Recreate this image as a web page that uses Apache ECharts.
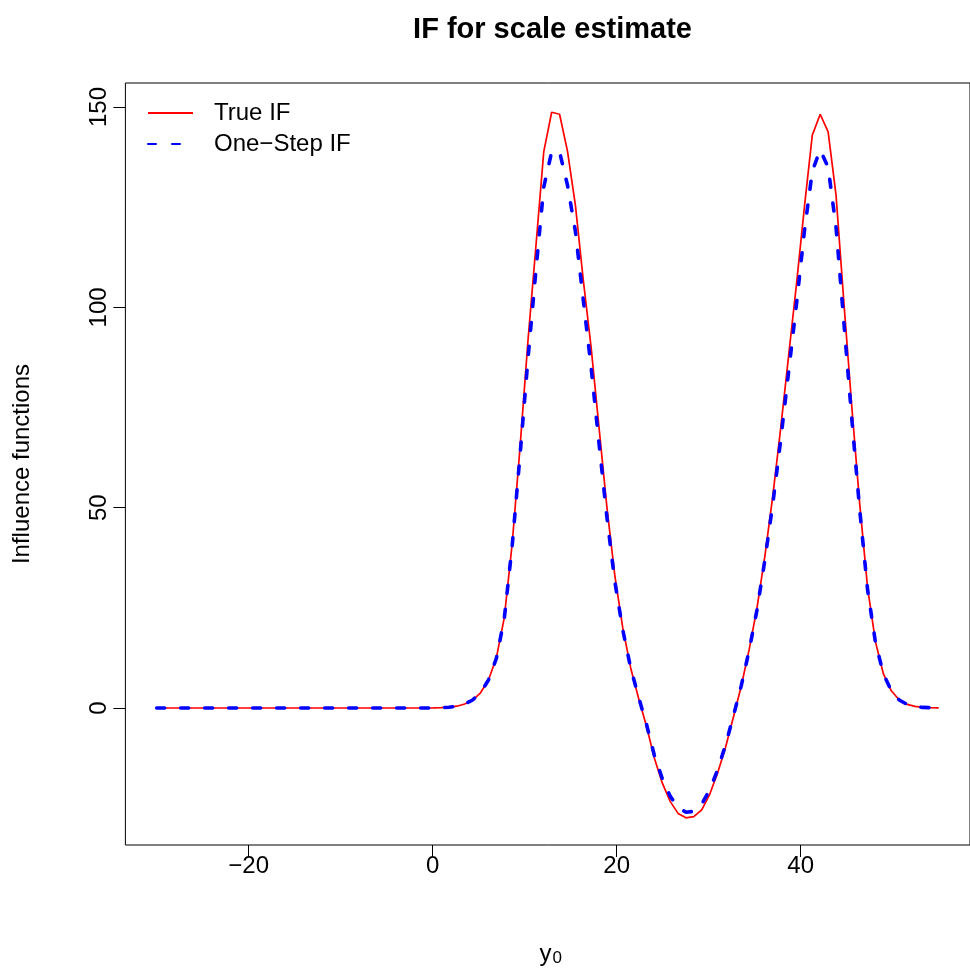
<!DOCTYPE html>
<html><head><meta charset="utf-8">
<script src="https://cdn.jsdelivr.net/npm/echarts@6/dist/echarts.min.js"></script>
<style>html,body{margin:0;padding:0;background:#fff}#c{width:970px;height:972px}</style>
</head><body><div id="c"></div>
<script>
const xValues = [-30,-29.14,-28.28,-27.42,-26.57,-25.71,-24.85,-23.99,-23.13,-22.27,
 -21.41,-20.56,-19.70,-18.84,-17.98,-17.12,-16.26,-15.40,-14.55,-13.69,
 -12.83,-11.97,-11.11,-10.25,-9.39,-8.54,-7.68,-6.82,-5.96,-5.10,
 -4.24,-3.38,-2.53,-1.67,-0.81,0.05,0.91,1.77,2.63,3.48,
 4.34,5.20,6.06,6.92,7.78,8.64,9.49,10.35,11.21,12.07,
 12.93,13.79,14.65,15.51,16.36,17.22,18.08,18.94,19.80,20.66,
 21.52,22.37,23.23,24.09,24.95,25.81,26.67,27.53,28.38,29.24,
 30.10,30.96,31.82,32.68,33.54,34.39,35.25,36.11,36.97,37.83,
 38.69,39.55,40.40,41.26,42.12,42.98,43.84,44.70,45.56,46.41,
 47.27,48.13,48.99,49.85,50.71,51.57,52.42,53.28,54.14,55.00];

const trueIF = [0,0,0,0,0,0,0,0,0,0,
 0,0,0,0,0,0,0,0,0,0,
 0,0,0,0,0,0,0,0,0,0,
 0,0,0,0,0.01,0.03,0.08,0.2,0.45,1.0,
 2.0,3.8,7.0,12.5,22.5,41,65,91.5,115,138.8,
 148.7,148.2,139,125.5,107,90,70,50,33,20,
 10,2.5,-4.5,-12.5,-18.7,-23.3,-26.3,-27.4,-27.1,-25.4,
 -21.6,-16.3,-9.9,-2.3,5.5,14.5,25,38,53,70,
 88,106,125,143,148.2,143.8,128,101,75,51,
 30,16.5,8.5,4.3,2.0,0.9,0.4,0.15,0.07,0.03];

const oneStepIF = [0,0,0,0,0,0,0,0,0,0,
 0,0,0,0,0,0,0,0,0,0,
 0,0,0,0,0,0,0,0,0,0,
 0,0,0,0,0.01,0.03,0.08,0.2,0.45,1.0,
 2.0,3.8,7.0,12.4,22.3,40.5,63,87,109,130,
 138.8,138.8,130.5,119,102,85,66,47.5,31.5,19.5,
 10,2.8,-4,-11.8,-17.6,-22,-24.8,-26,-25.8,-24,
 -20.5,-15.5,-9.3,-2,5.6,14.3,24.5,37,51,67,
 84,101,119,134,139.3,135,120,96,72,49.5,
 29.5,16.3,8.5,4.3,2.0,0.9,0.4,0.15,0.07,0.03];

const xTicks = [-20, 0, 20, 40];
const yTicks = [0, 50, 100, 150];
const seriesNames = ['True IF', 'One\u2212Step IF'];
const titleText = 'IF for scale estimate';
const yName = 'Influence functions';

const font = '"Liberation Sans", Arimo, Arial, Helvetica, sans-serif';
const minus = v => String(v).replace('-', '\u2212');

const chart = echarts.init(document.getElementById('c'), null, {renderer: 'canvas'});
chart.setOption({
  backgroundColor: '#ffffff',
  animation: false,
  title: {
    text: titleText, left: 547.5, top: 10, textAlign: 'center',
    textStyle: {fontFamily: font, fontSize: 29, fontWeight: 'bold', color: '#000'}
  },
  grid: {left: 125.4, top: 83, width: 852.2, height: 762, show: true,
         borderColor: '#000', borderWidth: 1, backgroundColor: 'transparent'},
  legend: {
    orient: 'vertical', left: 147, top: 101, padding: 0,
    itemWidth: 45, itemHeight: 14, itemGap: 7,
    itemStyle: {opacity: 0, borderWidth: 0},
    textStyle: {fontFamily: font, fontSize: 24, color: '#000', padding: [0, 0, 0, 16]},
    data: seriesNames
  },
  xAxis: {
    type: 'value', min: -33.4, max: 58.4,
    splitLine: {show: false},
    axisLine: {show: false, onZero: false},
    axisTick: {show: true, customValues: xTicks, length: 12, lineStyle: {color: '#000', width: 1}},
    axisLabel: {customValues: xTicks, margin: 9, fontFamily: font, fontSize: 24, color: '#000', formatter: minus},
    name: '{a|y}{b|0}', nameLocation: 'middle', nameGap: 96,
    nameTextStyle: {rich: {
      a: {fontFamily: font, fontSize: 24, color: '#000', padding: [0, 0, 0, 6]},
      b: {fontFamily: font, fontSize: 17, color: '#000', padding: [9, 0, 0, 1]}
    }}
  },
  yAxis: {
    type: 'value', min: -34.19, max: 156.0,
    splitLine: {show: false},
    axisLine: {show: false, onZero: false},
    axisTick: {show: true, customValues: yTicks, length: 12, lineStyle: {color: '#000', width: 1}},
    axisLabel: {customValues: yTicks, margin: 14, rotate: 90, fontFamily: font, fontSize: 24, color: '#000', formatter: minus},
    name: yName, nameLocation: 'middle', nameGap: 91,
    nameTextStyle: {fontFamily: font, fontSize: 24, color: '#000'}
  },
  series: [
    {
      name: seriesNames[0], type: 'line', symbol: 'none', z: 2,
      data: xValues.map((x, i) => [x, trueIF[i]]),
      lineStyle: {color: '#ff0000', width: 1.7},
      itemStyle: {color: '#ff0000'}
    },
    {
      name: seriesNames[1], type: 'line', symbol: 'none', z: 3,
      data: xValues.map((x, i) => [x, oneStepIF[i]]),
      lineStyle: {color: '#0000ff', width: 3.6, type: [8, 16], cap: 'round'},
      itemStyle: {color: '#0000ff'}
    }
  ]
});
</script></body></html>
